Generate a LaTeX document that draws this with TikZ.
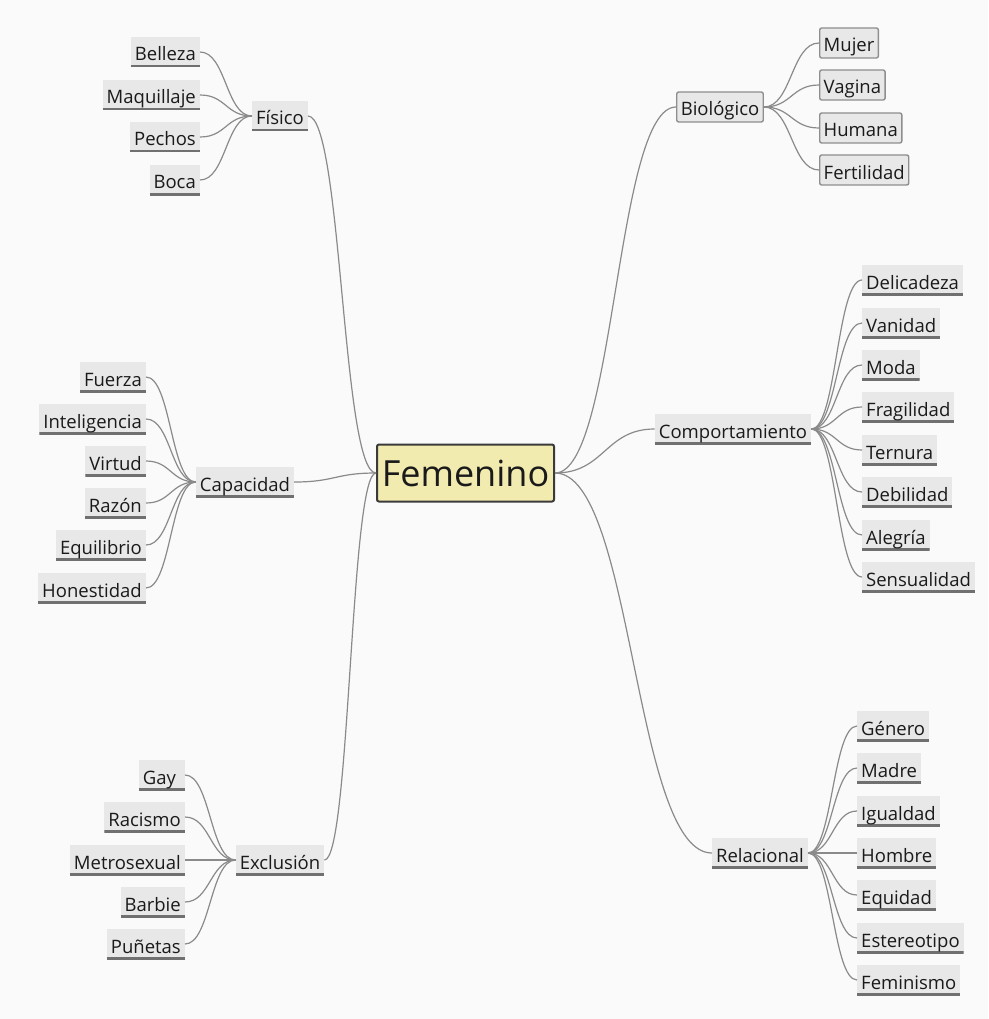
\documentclass[tikz,border=0pt]{standalone}
\usepackage{fontspec}
\setmainfont{Open Sans}
\usetikzlibrary{calc}
\definecolor{bg}{HTML}{FAFAFA}
\definecolor{leaffill}{HTML}{E8E8E8}
\definecolor{underl}{HTML}{707070}
\definecolor{wire}{HTML}{8A8A8A}
\definecolor{rootfill}{HTML}{F2EBB0}
\definecolor{rootline}{HTML}{3A3A3A}
\definecolor{boxline}{HTML}{8E8E8E}
\definecolor{ink}{HTML}{1A1A1A}
\tikzset{
  nodebase/.style={fill=leaffill, inner xsep=4pt, inner ysep=0pt,
    minimum height=30pt, text height=19pt, text depth=1pt,
    font=\fontsize{18.5}{20}\selectfont, text=ink},
  leaf/.style={nodebase,
    path picture={\draw[underl, line width=4pt]
      (path picture bounding box.south west) -- (path picture bounding box.south east);}},
  framed/.style={nodebase, draw=boxline, line width=1.4pt, rounded corners=2pt},
  root/.style={fill=rootfill, draw=rootline, line width=2pt, rounded corners=2pt,
    minimum width=177pt, minimum height=57pt, inner sep=0pt,
    font=\fontsize{36}{40}\selectfont, text=ink},
  sbend/.style={to path={let \p1=(\tikztostart), \p2=(\tikztotarget) in
    .. controls ({(\x1+\x2)/2},\y1) and ({(\x1+\x2)/2},\y2) .. (\tikztotarget)}},
  wire/.style={draw=wire, line width=1.2pt}
}
\begin{document}
\begin{tikzpicture}[x=1pt, y=-1pt]
  \fill[bg] (0,0) rectangle (988,1019);
  \useasboundingbox (0,0) rectangle (988,1019);

  % central topic
  \node[root] (root) at (465.5,473) {Femenino};

  % main branches
  \node[leaf] (fis) at (280,116) {Físico};
  \node[framed] (bio) at (720,107) {Biológico};
  \node[leaf] (comp) at (733,429) {Comportamiento};
  \node[leaf] (cap) at (245,482) {Capacidad};
  \node[leaf] (exc) at (280,860) {Exclusión};
  \node[leaf] (rel) at (760,853) {Relacional};

  \draw[wire] (fis.east) to[sbend] (root.west);
  \draw[wire] (cap.east) to[sbend] (root.west);
  \draw[wire] (exc.east) to[sbend] (root.west);
  \draw[wire] (root.east) to[sbend] (bio.west);
  \draw[wire] (root.east) to[sbend] (comp.west);
  \draw[wire] (root.east) to[sbend] (rel.west);

  % Físico
  \node[leaf, anchor=east] (f1) at (200,52) {Belleza};
  \node[leaf, anchor=east] (f2) at (200,95) {Maquillaje};
  \node[leaf, anchor=east] (f3) at (200,137) {Pechos};
  \node[leaf, anchor=east] (f4) at (200,180) {Boca};
  \foreach \v in {f1,f2,f3,f4} \draw[wire] (\v.east) to[sbend] (fis.west);

  % Biológico
  \node[framed, anchor=west] (b1) at (819,43) {Mujer};
  \node[framed, anchor=west] (b2) at (819,85) {Vagina};
  \node[framed, anchor=west] (b3) at (819,128) {Humana};
  \node[framed, anchor=west] (b4) at (819,170) {Fertilidad};
  \foreach \v in {b1,b2,b3,b4} \draw[wire] (bio.east) to[sbend] (\v.west);

  % Comportamiento
  \node[leaf, anchor=west] (c1) at (862,280) {Delicadeza};
  \node[leaf, anchor=west] (c2) at (862,323) {Vanidad};
  \node[leaf, anchor=west] (c3) at (862,365) {Moda};
  \node[leaf, anchor=west] (c4) at (862,407) {Fragilidad};
  \node[leaf, anchor=west] (c5) at (862,450) {Ternura};
  \node[leaf, anchor=west] (c6) at (862,492) {Debilidad};
  \node[leaf, anchor=west] (c7) at (862,535) {Alegría};
  \node[leaf, anchor=west] (c8) at (862,577) {Sensualidad};
  \foreach \v in {c1,c2,c3,c4,c5,c6,c7,c8} \draw[wire] (comp.east) to[sbend] (\v.west);

  % Capacidad
  \node[leaf, anchor=east] (k1) at (146,377) {Fuerza};
  \node[leaf, anchor=east] (k2) at (146,419) {Inteligencia};
  \node[leaf, anchor=east] (k3) at (146,461) {Virtud};
  \node[leaf, anchor=east] (k4) at (146,503) {Razón};
  \node[leaf, anchor=east] (k5) at (146,545) {Equilibrio};
  \node[leaf, anchor=east] (k6) at (146,588) {Honestidad};
  \foreach \v in {k1,k2,k3,k4,k5,k6} \draw[wire] (\v.east) to[sbend] (cap.west);

  % Exclusión
  \node[leaf, anchor=east] (e1) at (185,775) {Gay\ \ };
  \node[leaf, anchor=east] (e2) at (185,817) {Racismo};
  \node[leaf, anchor=east] (e3) at (185,860) {Metrosexual};
  \node[leaf, anchor=east] (e4) at (185,902) {Barbie};
  \node[leaf, anchor=east] (e5) at (185,944) {Puñetas};
  \foreach \v in {e1,e2,e3,e4,e5} \draw[wire] (\v.east) to[sbend] (exc.west);

  % Relacional
  \node[leaf, anchor=west] (r1) at (857,726) {Género};
  \node[leaf, anchor=west] (r2) at (857,768) {Madre};
  \node[leaf, anchor=west] (r3) at (857,811) {Igualdad};
  \node[leaf, anchor=west] (r4) at (857,853) {Hombre};
  \node[leaf, anchor=west] (r5) at (857,895) {Equidad};
  \node[leaf, anchor=west] (r6) at (857,938) {Estereotipo};
  \node[leaf, anchor=west] (r7) at (857,980) {Feminismo};
  \foreach \v in {r1,r2,r3,r4,r5,r6,r7} \draw[wire] (rel.east) to[sbend] (\v.west);
\end{tikzpicture}
\end{document}
